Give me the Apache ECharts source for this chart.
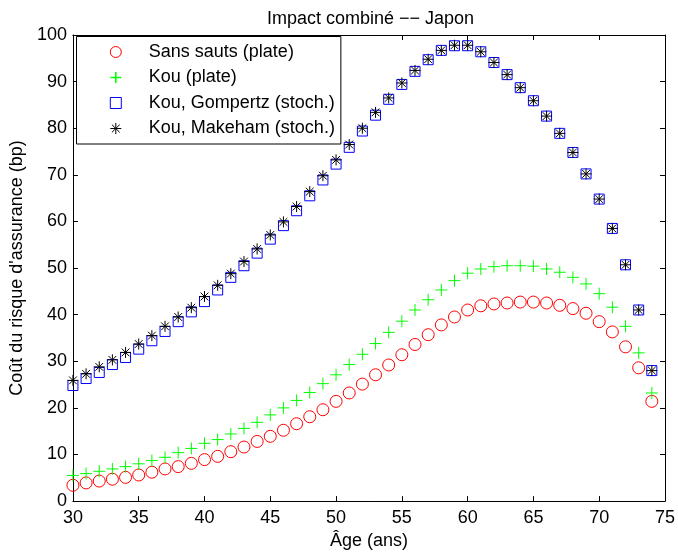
<!DOCTYPE html>
<html>
<head>
<meta charset="utf-8">
<script src="https://cdn.jsdelivr.net/npm/echarts@6/dist/echarts.min.js"></script>
<style>
  html, body { margin: 0; padding: 0; background: #fff; }
  #chart { width: 678px; height: 555px; }
</style>
</head>
<body>
<div id="chart"></div>
<script>
// Insurance risk cost (basis points) by age, Japan, combined impact
const ages = [30, 31, 32, 33, 34, 35, 36, 37, 38, 39, 40, 41, 42, 43, 44,
              45, 46, 47, 48, 49, 50, 51, 52, 53, 54, 55, 56, 57, 58, 59,
              60, 61, 62, 63, 64, 65, 66, 67, 68, 69, 70, 71, 72, 73, 74];

const sansSauts = [3.4, 3.9, 4.3, 4.7, 5.1, 5.6, 6.2, 6.9, 7.4, 8.1, 8.9, 9.6, 10.6, 11.6, 12.8,
                   13.9, 15.2, 16.6, 18.1, 19.6, 21.4, 23.2, 25.1, 27.1, 29.2, 31.4, 33.6, 35.7, 37.8, 39.5,
                   41.0, 41.9, 42.3, 42.5, 42.7, 42.7, 42.5, 42.0, 41.3, 40.3, 38.5, 36.3, 33.1, 28.6, 21.4];

const kouPlate = [5.5, 5.9, 6.4, 6.9, 7.4, 8.0, 8.7, 9.4, 10.4, 11.3, 12.4, 13.2, 14.4, 15.6, 16.9,
                  18.5, 20.0, 21.6, 23.3, 25.2, 27.1, 29.3, 31.5, 33.8, 36.2, 38.6, 41.0, 43.2, 45.3, 47.3,
                  48.9, 49.8, 50.3, 50.5, 50.5, 50.4, 49.8, 49.1, 48.0, 46.6, 44.5, 41.6, 37.5, 31.8, 23.2];

const kouGompertz = [24.8, 26.3, 27.6, 29.3, 30.8, 32.6, 34.4, 36.4, 38.5, 40.6, 42.8, 45.3, 48.0, 50.5, 53.2,
                     56.2, 59.1, 62.3, 65.5, 68.9, 72.3, 75.9, 79.4, 82.8, 86.2, 89.4, 92.2, 94.7, 96.7, 97.7,
                     97.7, 96.4, 94.1, 91.5, 88.7, 85.9, 82.6, 78.9, 74.8, 70.2, 64.8, 58.5, 50.7, 41.0, 28.0];

const kouMakeham = [25.9, 27.3, 28.8, 30.3, 31.9, 33.7, 35.5, 37.5, 39.5, 41.5, 43.9, 46.3, 48.8, 51.4, 54.1,
                    57.1, 59.9, 63.2, 66.4, 69.8, 73.2, 76.5, 80.0, 83.4, 86.5, 89.7, 92.4, 94.8, 96.7, 97.8,
                    97.8, 96.4, 94.1, 91.5, 88.7, 85.9, 82.6, 78.9, 74.8, 70.2, 64.8, 58.5, 50.7, 41.0, 28.0];

const seriesNames = ['Sans sauts (plate)', 'Kou (plate)', 'Kou, Gompertz (stoch.)', 'Kou, Makeham (stoch.)'];
const fillColors = ['rgba(255,255,255,0)', '#00ff00', 'rgba(255,255,255,0)', '#000000'];
const edgeColors = ['#ff0000', '#00ff00', '#0000ff', '#000000'];
const legendEdgeWidths = [1, 1.6, 1, 1];

const FONT = '"Liberation Sans", Arial, Helvetica, sans-serif';
const CIRCLE = 'circle';
const PLUS = 'path://M0,-1V1M-1,0H1';
const SQUARE = 'path://M-1,-1H1V1H-1Z';
const STAR = 'path://M0,-1V1M-1,0H1M-0.707,-0.707L0.707,0.707M-0.707,0.707L0.707,-0.707';

function pairs(values) {
  return ages.map((a, i) => [a, values[i]]);
}

function markStyle(i, width) {
  return { color: fillColors[i], borderColor: edgeColors[i], borderWidth: width || 1, opacity: 1 };
}

const tickStyle = { show: true, inside: true, length: 5, lineStyle: { color: '#000', width: 1 } };
const lineStyle = { show: true, onZero: false, lineStyle: { color: '#000', width: 1 } };

const chart = echarts.init(document.getElementById('chart'), null, { renderer: 'canvas' });

chart.setOption({
  animation: false,
  backgroundColor: '#fff',
  textStyle: { fontFamily: FONT },
  title: {
    text: 'Impact combiné −− Japon',
    left: 262,
    top: 5,
    textStyle: { fontFamily: FONT, fontSize: 18, fontWeight: 'normal', color: '#000' }
  },
  grid: { left: 72.5, right: 12, top: 35, bottom: 53.5, containLabel: false },
  legend: {
    orient: 'vertical',
    left: 76.5,
    top: 36.5,
    padding: [6.5, 6, 6.5, 33],
    itemWidth: 56,
    itemHeight: 11,
    itemGap: 7.5,
    backgroundColor: '#fff',
    borderColor: '#000',
    borderWidth: 1,
    borderRadius: 0,
    textStyle: { fontFamily: FONT, fontSize: 18, color: '#000' },
    data: seriesNames.map((n, i) => ({ name: n, itemStyle: markStyle(i, legendEdgeWidths[i]) }))
  },
  xAxis: [
    {
      type: 'value', position: 'bottom', min: 30, max: 75, interval: 5,
      name: 'Âge (ans)', nameLocation: 'middle', nameGap: 30,
      nameTextStyle: { fontFamily: FONT, fontSize: 18, color: '#000' },
      axisLine: lineStyle, axisTick: tickStyle,
      axisLabel: { fontFamily: FONT, fontSize: 18, color: '#000', margin: 8 },
      splitLine: { show: false }
    },
    {
      type: 'value', position: 'top', min: 30, max: 75, interval: 5,
      axisLine: lineStyle, axisTick: tickStyle,
      axisLabel: { show: false }, splitLine: { show: false }
    }
  ],
  yAxis: [
    {
      type: 'value', position: 'left', min: 0, max: 100, interval: 10,
      name: "Coût du risque d'assurance (bp)", nameLocation: 'middle', nameGap: 45,
      nameTextStyle: { fontFamily: FONT, fontSize: 18, color: '#000' },
      axisLine: lineStyle, axisTick: tickStyle,
      axisLabel: { fontFamily: FONT, fontSize: 18, color: '#000', margin: 6 },
      splitLine: { show: false }
    },
    {
      type: 'value', position: 'right', min: 0, max: 100, interval: 10,
      axisLine: lineStyle, axisTick: tickStyle,
      axisLabel: { show: false }, splitLine: { show: false }
    }
  ],
  series: [
    { name: seriesNames[0], type: 'scatter', data: pairs(sansSauts), symbol: CIRCLE, symbolSize: 12, itemStyle: markStyle(0) },
    { name: seriesNames[1], type: 'scatter', data: pairs(kouPlate), symbol: PLUS, symbolSize: 12, itemStyle: markStyle(1) },
    { name: seriesNames[2], type: 'scatter', data: pairs(kouGompertz), symbol: SQUARE, symbolSize: 10, itemStyle: markStyle(2) },
    { name: seriesNames[3], type: 'scatter', data: pairs(kouMakeham), symbol: STAR, symbolSize: 11, itemStyle: markStyle(3) }
  ]
});
</script>
</body>
</html>
